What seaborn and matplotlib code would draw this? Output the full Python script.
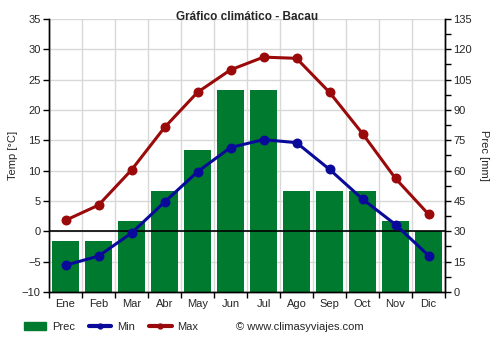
import matplotlib
matplotlib.use("Agg")
import matplotlib.pyplot as plt
import seaborn as sns
import pandas as pd
from matplotlib.lines import Line2D
from matplotlib.patches import Patch
from matplotlib.ticker import MultipleLocator, FixedLocator

months = ["Ene", "Feb", "Mar", "Abr", "May", "Jun", "Jul", "Ago", "Sep", "Oct", "Nov", "Dic"]
prec = [25, 25, 35, 50, 70, 100, 100, 50, 50, 50, 35, 30]
tmin = [-5.6, -4.1, -0.3, 4.8, 9.8, 13.8, 15.1, 14.6, 10.2, 5.3, 1.1, -4.0]
tmax = [1.8, 4.3, 10.1, 17.1, 22.9, 26.6, 28.7, 28.5, 22.9, 16.1, 8.7, 2.8]

df = pd.DataFrame({"Mes": months, "Prec": prec, "Min": tmin, "Max": tmax})

sns.set_theme(style="white")
plt.rcParams['font.family'] = ['Liberation Sans', 'DejaVu Sans']

GREEN = "#007A2E"
BLUE = "#0A0A9A"
RED = "#9A0A0A"

fig = plt.figure(figsize=(5, 3.5), dpi=100)
ax2 = fig.add_axes([0.098, 0.166, 0.792, 0.78])
ax = ax2.twinx()
ax.yaxis.tick_left()
ax.yaxis.set_label_position("left")
ax2.yaxis.tick_right()
ax2.yaxis.set_label_position("right")

sns.barplot(data=df, x="Mes", y="Prec", color=GREEN, saturation=1, width=0.8,
            linewidth=0, edgecolor=GREEN, ax=ax2, zorder=2)
ax2.set_ylim(0, 135)
ax2.set_xlim(-0.5, 11.5)
ax2.yaxis.set_major_locator(MultipleLocator(15))
ax2.yaxis.set_minor_locator(MultipleLocator(7.5))
ax2.xaxis.set_minor_locator(FixedLocator([i - 0.5 for i in range(13)]))
ax2.grid(True, which="major", axis="y", color="#d8d8d8", linewidth=1, zorder=0)
ax2.grid(True, which="minor", axis="x", color="#d8d8d8", linewidth=1, zorder=0)
ax2.set_axisbelow(True)
ax2.set_xlabel("")
ax2.set_ylabel("Prec [mm]", rotation=270, labelpad=12, fontsize=8)
ax2.tick_params(axis="y", which="major", right=True, left=False, length=4, width=1, color="black", labelsize=8, pad=2)
ax2.tick_params(axis="y", which="minor", right=True, left=False, length=4, width=1, color="black")
ax2.tick_params(axis="x", which="major", length=0, labelsize=8, pad=5)
ax2.tick_params(axis="x", which="minor", bottom=True, length=4, width=1, color="black")

sns.pointplot(data=df, x="Mes", y="Min", color=BLUE, markers="o", markersize=5.5, linewidth=2.2, ax=ax, zorder=4)
sns.pointplot(data=df, x="Mes", y="Max", color=RED, markers="o", markersize=5.5, linewidth=2.2, ax=ax, zorder=4)
ax.set_ylim(-10, 35)
ax.set_xlim(-0.5, 11.5)
ax.yaxis.set_major_locator(MultipleLocator(5))
ax.axhline(0, color="black", linewidth=1.2, zorder=3)
ax.set_ylabel("Temp [°C]", fontsize=8, labelpad=3)
ax.set_xlabel("")
ax.tick_params(axis="y", left=True, right=False, length=4, width=1, color="black", labelsize=8, pad=2)
ax.grid(False)

for a in (ax, ax2):
    a.spines["top"].set_visible(False)
    for s in ("left", "right", "bottom"):
        a.spines[s].set_color("black")
        a.spines[s].set_linewidth(1)

fig.text(247 / 500, 1 - 17 / 350, "Gráfico climático - Bacau", ha="center", va="center",
         fontsize=8.5, fontweight="bold")

handles = [
    Patch(facecolor=GREEN, edgecolor=GREEN),
    Line2D([0], [0], color=BLUE, lw=3, marker="o", markersize=3.5),
    Line2D([0], [0], color=RED, lw=3, marker="o", markersize=3.5),
]
fig.legend(handles, ["Prec", "Min", "Max"], loc="center left", bbox_to_anchor=(0.048, 1 - 327 / 350),
           ncol=3, frameon=False, fontsize=8, handlelength=2.0, columnspacing=1.3,
           handletextpad=0.5, borderpad=0, borderaxespad=0)
fig.text(236 / 500, 1 - 327 / 350, "© www.climasyviajes.com", ha="left", va="center", fontsize=8)

fig.savefig("out.png", dpi=100)
